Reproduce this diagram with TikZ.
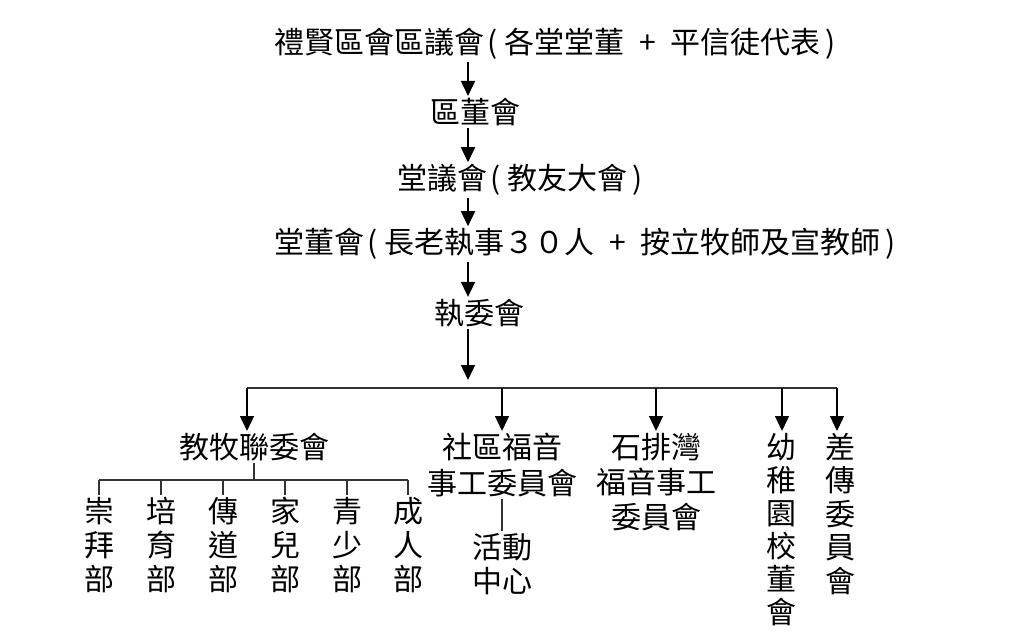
\documentclass[tikz,border=0pt]{standalone}
\usepackage{fontspec}
\setmainfont{Noto Sans CJK TC}
\usetikzlibrary{arrows.meta, calc, positioning}
\definecolor{Ink}  {HTML}{000000}
\definecolor{LineG}{HTML}{333333}
\newcommand{\lpar}{\kern3pt(\kern7pt}
\newcommand{\rpar}{\kern5pt)}
\newcommand{\plusgap}{\kern15pt+\kern15pt}
\tikzset{
  org/.style args={#1}{
    font=\fontsize{30}{#1}\selectfont, text=Ink,
    align=center, inner sep=2pt,
  },
  arr/.style args={#1}{
    -{Triangle[length=15pt,width=14pt]},
    line width=#1, color=Ink,
  },
  tree/.style={
    line width=1.3pt, color=LineG,
  },
}
\begin{document}
\begin{tikzpicture}[x=1pt,y=-1pt]
    \useasboundingbox (0,0) rectangle (1024,640);
    \coordinate (spine) at (468,0);
    \node[org=34, anchor=west] (qyh) at (272, 44)
          {禮賢區會區議會\lpar 各堂堂董\plusgap 平信徒代表\rpar};
    \node[org=34, anchor=west] (qdh) at (428,112) {區董會};
    \node[org=34, anchor=west] (tyh) at (395,180) {堂議會\lpar 教友大會\rpar};
    \node[org=34, anchor=west] (tdh) at (272,244)
          {堂董會\lpar 長老執事３０人\plusgap 按立牧師及宣教師\rpar};
    \node[org=34, anchor=west] (zwh) at (432,313) {執委會};
    \coordinate (hub) at (468,380);
    \draw[arr=1.8pt] (qyh.south -| spine) -- (qdh.north -| spine);
    \draw[arr=1.8pt] (qdh.south -| spine) -- (tyh.north -| spine);
    \draw[arr=1.8pt] (tyh.south -| spine) -- (tdh.north -| spine);
    \draw[arr=1.8pt] (tdh.south -| spine) -- (zwh.north -| spine);
    \draw[arr=1.4pt] (zwh.south -| spine) -- (hub);

    % second level
    \coordinate (barL) at (247,388);
    \coordinate (barR) at (837,388);
    \node[org=34, anchor=north] (jml) at (254,431) {教牧聯委會};
    \node[org=36, anchor=north] (sqf) at (502,431) {社區福音\\事工委員會};
    \node[org=35, anchor=north] (spw) at (656,431) {石排灣\\福音事工\\委員會};
    \node[org=33, anchor=north] (yzy) at (781,431) {幼\\稚\\園\\校\\董\\會};
    \node[org=33.5, anchor=north] (cwh) at (840,431) {差\\傳\\委\\員\\會};
    \draw[tree] (barL) -- (barR);
    \draw[arr=1.3pt] (barL) -- (barL |- jml.north);
    \draw[arr=1.3pt] (sqf.north |- barL) -- (sqf.north);
    \draw[arr=1.3pt] (spw.north |- barL) -- (spw.north);
    \draw[arr=1.3pt] ($(yzy.north |- barL)+(1,0)$) -- ($(yzy.north)+(1,0)$);
    \draw[arr=1.3pt] (barR) -- (barR |- cwh.north);

    % departments
    \coordinate (jmbar) at (0,480);
    \draw[tree] (jml.south) -- (jml.south |- jmbar);
    \draw[tree] (99,480) -- (408,480);
    \foreach \nm/\x/\txt in {cbb/99/{崇\\拜\\部}, pyb/161/{培\\育\\部},
                             cdb/223/{傳\\道\\部}, jeb/285/{家\\兒\\部},
                             qsb/347/{青\\少\\部}, crb/408/{成\\人\\部}}{
      \node[org=34, anchor=north] (\nm) at (\x,495) {\txt};
      \draw[tree] (\nm.north |- jmbar) -- (\nm.north);
    }
    \node[org=34, anchor=north] (hdz) at (502,531) {活動\\中心};
    \draw[tree] (sqf.south) -- (hdz.north);
\end{tikzpicture}
\end{document}
